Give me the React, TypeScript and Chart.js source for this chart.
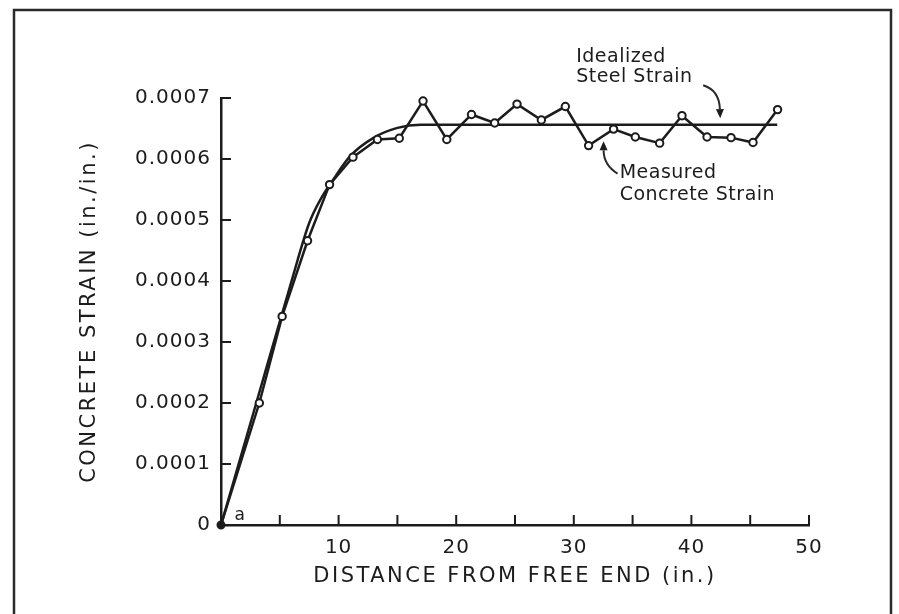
import React, { useEffect, useRef } from 'react';
import { Chart, registerables } from 'chart.js';
Chart.register(...registerables);

// ---- data ----
const measuredX = [0, 3.26, 5.2, 7.36, 9.23, 11.22, 13.3, 15.16, 17.18, 19.2, 21.3, 23.27, 25.17, 27.24, 29.28, 31.26, 33.38, 35.23, 37.3, 39.2, 41.33, 43.37, 45.24, 47.33];
const measuredY = [0, 0.0002, 0.000342, 0.000466, 0.000558, 0.000603, 0.000632, 0.000634, 0.000695, 0.000632, 0.000673, 0.000659, 0.00069, 0.000664, 0.000686, 0.000622, 0.000649, 0.000636, 0.000626, 0.000671, 0.000636, 0.000635, 0.000627, 0.000681];

const idealX = [0, 3, 6, 7.5, 8.5, 9.5, 11, 13, 15, 17, 47.3];
const idealY = [0, 0.0002, 0.0004, 0.000495, 0.000535, 0.000565, 0.000605, 0.000635, 0.000651, 0.000656, 0.000656];

const xTickValues = [0, 5, 10, 15, 20, 25, 30, 35, 40, 45, 50];
const xTickLabels = ['', '', '10', '', '20', '', '30', '', '40', '', '50'];
const yTickValues = [0, 0.0001, 0.0002, 0.0003, 0.0004, 0.0005, 0.0006, 0.0007];
const yTickLabels = ['0', '0.0001', '0.0002', '0.0003', '0.0004', '0.0005', '0.0006', '0.0007'];

const xTitle = 'DISTANCE FROM FREE END (in.)';
const yTitle = 'CONCRETE STRAIN (in./in.)';

const noteTexts = ['Idealized', 'Steel Strain', 'Measured', 'Concrete Strain'];
const noteX = [30.2, 30.2, 33.9, 33.9];
const noteY = [0.000767, 0.000734, 0.000577, 0.000541];

// arrows: start, control, tip (data units)
const arrowStartX = [41.0, 33.72];
const arrowStartY = [0.000721, 0.000576];
const arrowCtrlX = [42.37, 32.54];
const arrowCtrlY = [0.000713, 0.00059];
const arrowTipX = [42.45, 32.53];
const arrowTipY = [0.000667, 0.000629];

const originLabel = 'a';
const originLabelX = 1.6;
const originLabelY = 0.000015;

const FONT = '"DejaVu Sans", "Liberation Sans", sans-serif';
const INK = '#1c1c1c';

export default function App() {
  const ref = useRef<HTMLCanvasElement>(null);

  useEffect(() => {
    const canvas = ref.current!;
    const ctx = canvas.getContext('2d')!;

    const decor = {
      id: 'decor',
      beforeDraw(chart: any) {
        const c = chart.ctx;
        c.save();
        c.fillStyle = '#ffffff';
        c.fillRect(0, 0, chart.width, chart.height);
        c.restore();
        (c as any).letterSpacing = '1px';
      },
      afterDraw(chart: any) {
        const c = chart.ctx;
        const xs = chart.scales.x;
        const ys = chart.scales.y;
        const area = chart.chartArea;
        c.save();
        (c as any).letterSpacing = '0px';
        // inward ticks
        c.strokeStyle = INK;
        c.lineWidth = 2;
        c.beginPath();
        xTickValues.forEach((v) => {
          if (v === 0) return;
          const px = xs.getPixelForValue(v);
          c.moveTo(px, area.bottom);
          c.lineTo(px, area.bottom - 10);
        });
        yTickValues.forEach((v) => {
          if (v === 0) return;
          const py = ys.getPixelForValue(v);
          c.moveTo(area.left, py);
          c.lineTo(area.left + 10, py);
        });
        c.stroke();

        // frame
        c.strokeStyle = '#2a2a2a';
        c.lineWidth = 2.5;
        c.strokeRect(14, 10, chart.width - 22, chart.height + 20);

        // axis titles
        c.fillStyle = INK;
        c.font = `21px ${FONT}`;
        (c as any).letterSpacing = '2.5px';
        c.textAlign = 'center';
        c.textBaseline = 'middle';
        c.fillText(xTitle, (area.left + area.right) / 2, area.bottom + 52);
        c.save();
        c.translate(area.left - 131, (area.top + area.bottom) / 2);
        c.rotate(-Math.PI / 2);
        c.fillText(yTitle, 0, 0);
        c.restore();

        // annotations
        c.font = `19px ${FONT}`;
        (c as any).letterSpacing = '0.5px';
        c.textAlign = 'left';
        noteTexts.forEach((t, i) => {
          c.fillText(t, xs.getPixelForValue(noteX[i]), ys.getPixelForValue(noteY[i]));
        });
        c.font = `17px ${FONT}`;
        (c as any).letterSpacing = '0px';
        c.textAlign = 'center';
        c.fillText(originLabel, xs.getPixelForValue(originLabelX), ys.getPixelForValue(originLabelY));

        // arrows
        c.lineWidth = 2;
        arrowStartX.forEach((_, i) => {
          const sx = xs.getPixelForValue(arrowStartX[i]);
          const sy = ys.getPixelForValue(arrowStartY[i]);
          const cx = xs.getPixelForValue(arrowCtrlX[i]);
          const cy = ys.getPixelForValue(arrowCtrlY[i]);
          const tx = xs.getPixelForValue(arrowTipX[i]);
          const ty = ys.getPixelForValue(arrowTipY[i]);
          const ang = Math.atan2(ty - cy, tx - cx);
          const hl = 9, hw = 4;
          const bx = tx - hl * Math.cos(ang);
          const by = ty - hl * Math.sin(ang);
          c.beginPath();
          c.moveTo(sx, sy);
          c.quadraticCurveTo(cx, cy, bx, by);
          c.stroke();
          c.beginPath();
          c.moveTo(tx, ty);
          c.lineTo(bx + hw * Math.sin(ang), by - hw * Math.cos(ang));
          c.lineTo(bx - hw * Math.sin(ang), by + hw * Math.cos(ang));
          c.closePath();
          c.fill();
        });
        c.restore();
      },
    };

    const chart = new Chart(ctx, {
      type: 'scatter',
      data: {
        datasets: [
          {
            label: 'Measured Concrete Strain',
            data: measuredX.map((x, i) => ({ x, y: measuredY[i] })),
            showLine: true,
            borderColor: INK,
            borderWidth: 2.5,
            pointRadius: measuredX.map((_, i) => (i === 0 ? 3.5 : 3.7)),
            pointBorderWidth: 2,
            pointBorderColor: INK,
            pointBackgroundColor: measuredX.map((_, i) => (i === 0 ? INK : '#ffffff')),
            clip: false,
            order: 0,
          },
          {
            label: 'Idealized Steel Strain',
            data: idealX.map((x, i) => ({ x, y: idealY[i] })),
            showLine: true,
            borderColor: INK,
            borderWidth: 2.5,
            pointRadius: 0,
            cubicInterpolationMode: 'monotone',
            clip: false,
            order: 1,
          },
        ],
      },
      options: {
        responsive: false,
        animation: false,
        devicePixelRatio: 1,
        layout: { padding: { left: 0, top: 98, right: 90, bottom: 0 } },
        plugins: { legend: { display: false }, tooltip: { enabled: false } },
        scales: {
          x: {
            type: 'linear',
            min: 0,
            max: 50,
            afterFit: (s: any) => { s.height = 89; },
            afterBuildTicks: (s: any) => { s.ticks = xTickValues.map((v) => ({ value: v })); },
            grid: { display: false, drawTicks: false },
            border: { display: true, color: INK, width: 2.5 },
            ticks: {
              padding: 11,
              color: INK,
              font: { family: FONT, size: 20 },
              maxRotation: 0,
              autoSkip: false,
              callback: (v: any) => { const i = xTickValues.indexOf(Number(v)); return i >= 0 ? xTickLabels[i] : ''; },
            },
          },
          y: {
            type: 'linear',
            min: 0,
            max: 0.0007,
            afterFit: (s: any) => { s.width = 221; },
            afterBuildTicks: (s: any) => { s.ticks = yTickValues.map((v) => ({ value: v })); },
            grid: { display: false, drawTicks: false },
            border: { display: true, color: INK, width: 2.5 },
            ticks: {
              padding: 10,
              color: INK,
              font: { family: FONT, size: 20 },
              autoSkip: false,
              callback: (v: any) => { const i = yTickValues.findIndex((t) => Math.abs(t - Number(v)) < 1e-9); return i >= 0 ? yTickLabels[i] : ''; },
            },
          },
        },
      },
      plugins: [decor],
    } as any);

    return () => chart.destroy();
  }, []);

  return (
    <div style={{ position: 'absolute', left: 0, top: 0, width: 899, height: 614, background: '#fff' }}>
      <canvas ref={ref} width={899} height={614} style={{ display: 'block', width: 899, height: 614 }} />
    </div>
  );
}
